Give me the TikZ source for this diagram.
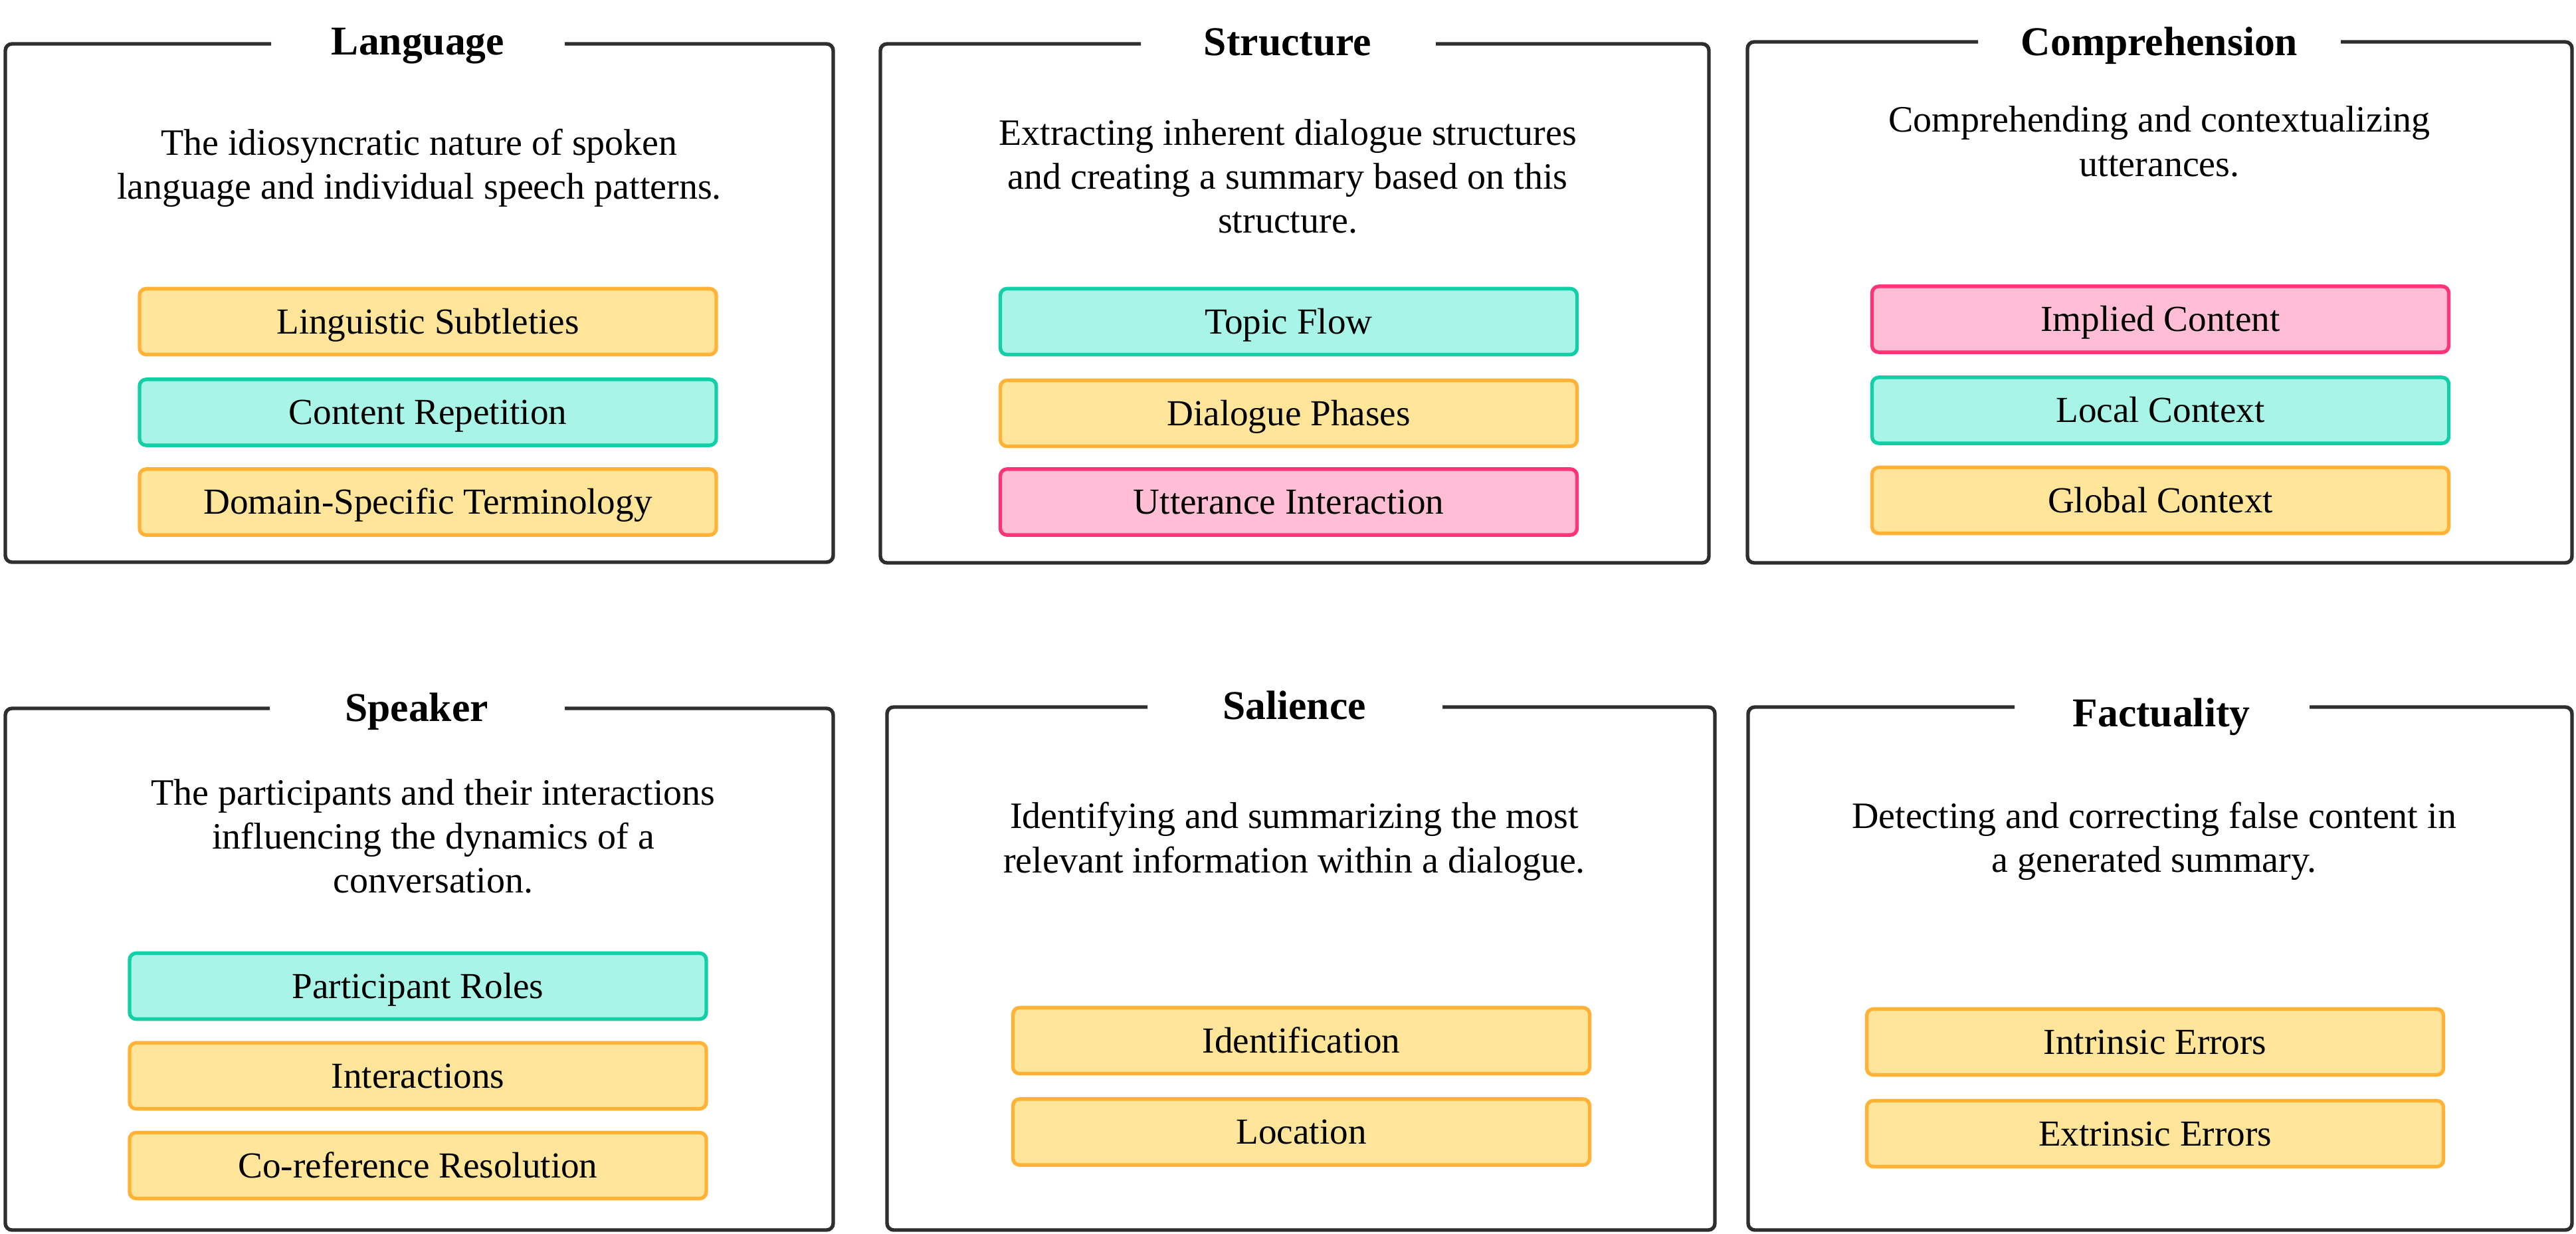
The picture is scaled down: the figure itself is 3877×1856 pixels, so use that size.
\documentclass[tikz,border=0pt]{standalone}
\usepackage{fontspec}
\setmainfont{Liberation Serif}
\definecolor{framec}{HTML}{2E2E2E}
\definecolor{yelF}{HTML}{FFE599}
\definecolor{yelD}{HTML}{FFB236}
\definecolor{tealF}{HTML}{A8F5E7}
\definecolor{tealD}{HTML}{12CFA8}
\definecolor{pinkF}{HTML}{FFBED5}
\definecolor{pinkD}{HTML}{FF3377}
\tikzset{
  catframe/.style={draw=framec, line width=1.35pt, rounded corners=2.5pt},
  cattitle/.style={font=\fontsize{15.4}{18}\selectfont\bfseries, anchor=base, inner sep=0pt},
  descline/.style={font=\fontsize{14}{16.5}\selectfont, anchor=base, inner sep=0pt},
  itembox/.style={rounded corners=2.5pt, line width=1.35pt, minimum width=217pt,
    minimum height=24.8pt, inner sep=0pt, text height=9.2pt, text depth=0pt,
    font=\fontsize{13.8}{16}\selectfont},
  itemY/.style={itembox, draw=yelD, fill=yelF},
  itemT/.style={itembox, draw=tealD, fill=tealF},
  itemP/.style={itembox, draw=pinkD, fill=pinkF},
}
\begin{document}
\begin{tikzpicture}[x=0.25pt, y=-0.25pt]
\useasboundingbox (0,0) rectangle (3877,1856);
% ---------- Language ----------
\draw[catframe] (408,66) -- (8,66) -- (8,846) -- (1254,846) -- (1254,66) -- (850,66);
\node[cattitle] (t1) at (629,82) {Language};
\node[descline] (d1a) at (631,233) {The idiosyncratic nature of spoken};
\node[descline] (d1b) at (631,299) {language and individual speech patterns.};
\node[itemY] (b1a) at (644,484) {Linguistic Subtleties};
\node[itemT] (b1b) at (644,620.5) {Content Repetition};
\node[itemY] (b1c) at (644,755.5) {Domain-Specific Terminology};
% ---------- Structure ----------
\draw[catframe] (1717,66) -- (1325,66) -- (1325,847) -- (2572,847) -- (2572,66) -- (2161,66);
\node[cattitle] (t2) at (1938,83) {Structure};
\node[descline] (d2a) at (1938,218) {Extracting inherent dialogue structures};
\node[descline] (d2b) at (1938,284) {and creating a summary based on this};
\node[descline] (d2c) at (1938,350) {structure.};
\node[itemT] (b2a) at (1939.5,484) {Topic Flow};
\node[itemY] (b2b) at (1939.5,622) {Dialogue Phases};
\node[itemP] (b2c) at (1939.5,755.5) {Utterance Interaction};
% ---------- Comprehension ----------
\draw[catframe] (2977,63) -- (2630,63) -- (2630,847) -- (3871,847) -- (3871,63) -- (3523,63);
\node[cattitle] (t3) at (3250,83) {Comprehension};
\node[descline] (d3a) at (3250,198) {Comprehending and contextualizing};
\node[descline] (d3b) at (3250,265) {utterances.};
\node[itemP] (b3a) at (3251.5,480.5) {Implied Content};
\node[itemT] (b3b) at (3251.5,617.5) {Local Context};
\node[itemY] (b3c) at (3251.5,753) {Global Context};
% ---------- Speaker ----------
\draw[catframe] (406,1066) -- (8,1066) -- (8,1851) -- (1254,1851) -- (1254,1066) -- (850,1066);
\node[cattitle] (t4) at (627,1085) {Speaker};
\node[descline] (d4a) at (652,1211) {The participants and their interactions};
\node[descline] (d4b) at (652,1277) {influencing the dynamics of a};
\node[descline] (d4c) at (652,1343) {conversation.};
\node[itemT] (b4a) at (629,1484) {Participant Roles};
\node[itemY] (b4b) at (629,1619) {Interactions};
\node[itemY] (b4c) at (629,1754) {Co-reference Resolution};
% ---------- Salience ----------
\draw[catframe] (1727,1064) -- (1335,1064) -- (1335,1851) -- (2581,1851) -- (2581,1064) -- (2171,1064);
\node[cattitle] (t5) at (1948,1082) {Salience};
\node[descline] (d5a) at (1948,1246) {Identifying and summarizing the most};
\node[descline] (d5b) at (1948,1313) {relevant information within a dialogue.};
\node[itemY] (b5a) at (1958.5,1566) {Identification};
\node[itemY] (b5b) at (1958.5,1703.5) {Location};
% ---------- Factuality ----------
\draw[catframe] (3032,1064) -- (2631,1064) -- (2631,1851) -- (3871,1851) -- (3871,1064) -- (3476,1064);
\node[cattitle] (t6) at (3253,1093) {Factuality};
\node[descline] (d6a) at (3242,1246) {Detecting and correcting false content in};
\node[descline] (d6b) at (3242,1312) {a generated summary.};
\node[itemY] (b6a) at (3243.5,1568) {Intrinsic Errors};
\node[itemY] (b6b) at (3243.5,1706) {Extrinsic Errors};
\end{tikzpicture}
\end{document}
